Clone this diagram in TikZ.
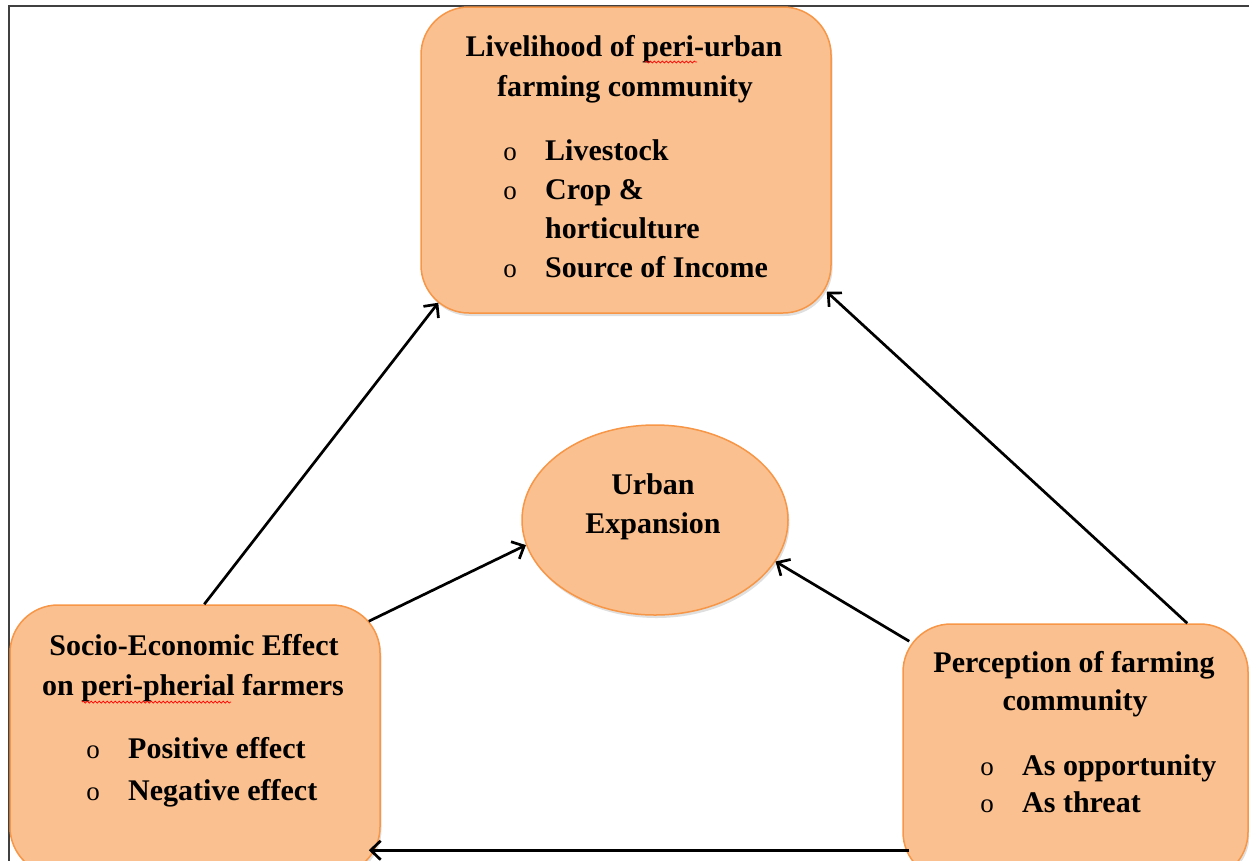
\documentclass[tikz,border=0pt]{standalone}
\usepackage{fontspec}
\setmainfont{Liberation Serif}
\usetikzlibrary{arrows.meta,shapes.geometric,shadows,calc,decorations.pathmorphing}
\definecolor{boxfill}{RGB}{250,192,143}
\definecolor{boxline}{RGB}{247,150,70}
\begin{document}
\begin{tikzpicture}[x=1pt,y=-1pt,
  box/.style={draw=boxline, line width=1.5pt, fill=boxfill, inner sep=0pt,
    drop shadow={opacity=0.25, shadow xshift=1.5pt, shadow yshift=-3pt}},
  txt/.style={font=\fontsize{30}{36}\selectfont\bfseries, inner sep=0pt},
  bul/.style={font=\fontsize{27}{30}\selectfont, inner sep=0pt},
  arr/.style={line width=2.7pt, -{Straight Barb[length=10pt,width=19pt,line width=2.7pt]}},
  wavy/.style={red, line width=0.7pt, decorate, decoration={snake, amplitude=1pt, segment length=4pt}}]
\clip (0,0) rectangle (1249,860);
\useasboundingbox (0,0) rectangle (1249,860);
\draw[line width=2pt, black!75] (9,6) rectangle (1270,880);

% boxes
\node[box, rounded corners=48pt, minimum width=410pt, minimum height=306pt] (top) at (626,160) {};
\node[box, rounded corners=48pt, minimum width=370pt, minimum height=270pt] (lbox) at (195,740) {};
\node[box, rounded corners=48pt, minimum width=345pt, minimum height=256pt] (rbox) at (1075.5,752) {};
\node[box, ellipse, minimum width=266pt, minimum height=190pt] (ell) at (655,520) {};

% top box text
\node[txt, anchor=base] (t1) at (624,56) {Livelihood of peri-urban};
\node[txt, anchor=base] (t2) at (625,96) {farming community};
\node[bul, anchor=base] (tb1) at (510,160) {o};
\node[bul, anchor=base] (tb2) at (510,199) {o};
\node[bul, anchor=base] (tb3) at (510,277) {o};
\node[txt, anchor=base west] (ti1) at (545,160) {Livestock};
\node[txt, anchor=base west] (ti2) at (545,199) {Crop \&};
\node[txt, anchor=base west] (ti3) at (545,238) {horticulture};
\node[txt, anchor=base west] (ti4) at (545,277) {Source of Income};
\draw[wavy] (645,62) -- (697,62);

% ellipse text
\node[txt, anchor=base] (e1) at (653,494) {Urban};
\node[txt, anchor=base] (e2) at (653,533) {Expansion};

% left box text
\node[txt, anchor=base] (l1) at (194,655) {Socio-Economic Effect};
\node[txt, anchor=base] (l2) at (193,695) {on peri-pherial farmers};
\node[bul, anchor=base] (lb1) at (93,758) {o};
\node[bul, anchor=base] (lb2) at (93,800) {o};
\node[txt, anchor=base west] (li1) at (128,758) {Positive effect};
\node[txt, anchor=base west] (li2) at (128,800) {Negative effect};
\draw[wavy] (82,702) -- (231,702);

% right box text
\node[txt, anchor=base] (r1) at (1074,672) {Perception of farming};
\node[txt, anchor=base] (r2) at (1075,710) {community};
\node[bul, anchor=base] (rb1) at (987,775) {o};
\node[bul, anchor=base] (rb2) at (987,812) {o};
\node[txt, anchor=base west] (ri1) at (1022,775) {As opportunity};
\node[txt, anchor=base west] (ri2) at (1022,812) {As threat};

% connector end points
\coordinate (a1s) at ($(lbox.north west)+(195,0)$);
\coordinate (a1e) at ($(top.south west)+(18,-11)$);
\coordinate (a2s) at ($(rbox.north west)+(285,0)$);
\coordinate (a2e) at ($(top.south east)+(-5,-22)$);
\coordinate (a3s) at ($(lbox.north east)+(-12,17)$);
\coordinate (a4s) at ($(rbox.north west)+(7,18)$);
\coordinate (a5s) at ($(rbox.north west)+(7,227)$);
\coordinate (a5e) at ($(lbox.north east)+(-12,246)$);

\draw[arr] (a1s) -- (a1e);
\draw[arr] (a2s) -- (a2e);
\draw[arr] (a3s) -- (ell.191);
\draw[arr] (a4s) -- (ell.341);
\draw[arr] (a5s) -- (a5e);
\end{tikzpicture}
\end{document}
